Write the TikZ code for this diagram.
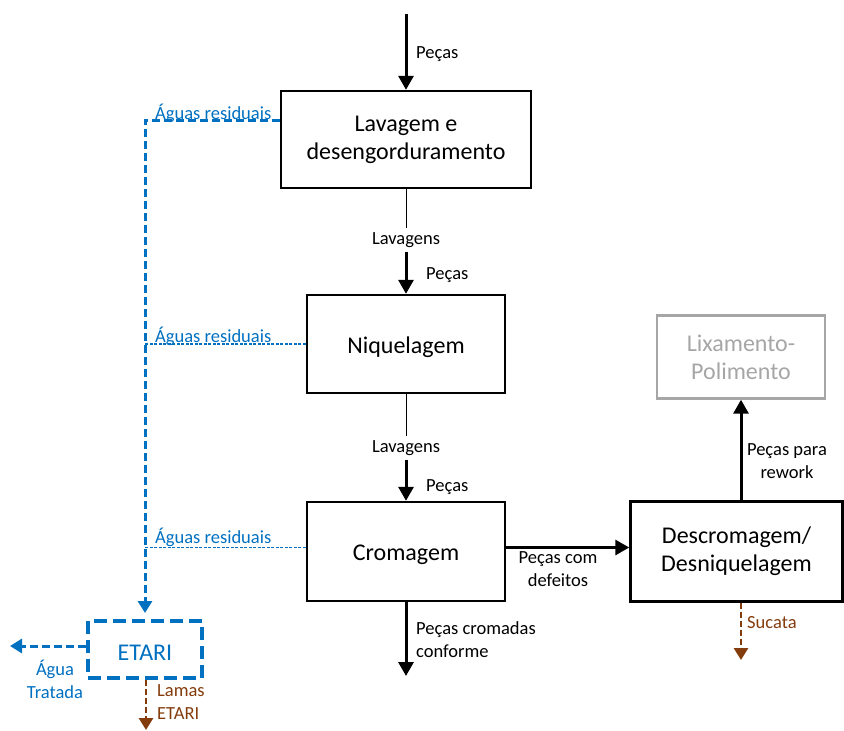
\documentclass[tikz,border=0pt]{standalone}
\usepackage{fontspec}
\setmainfont{Carlito}
\usetikzlibrary{arrows.meta}
\definecolor{wblue}{HTML}{0070C0}
\definecolor{sbrown}{HTML}{843C0C}
\definecolor{lgray}{HTML}{A6A6A6}
\begin{document}
\begin{tikzpicture}[x=1pt,y=-1pt,
  proc/.style={draw=black,line width=2.4pt,fill=white,align=center,
    font=\fontsize{24}{28}\selectfont,inner sep=0pt,
    execute at begin node={\rule{0pt}{22.5pt}}},
  lbl/.style={font=\fontsize{18.5}{23}\selectfont,inner sep=0pt},
  flow/.style={line width=3pt,-{Triangle[width=15pt,length=14pt]}},
  rinse/.style={line width=1pt},
  water/.style={draw=wblue,line width=3pt,dash pattern=on 8pt off 4pt},
  waterthin/.style={draw=wblue,line width=1.1pt,dash pattern=on 3pt off 1.5pt},
  wtip/.style={-{Triangle[width=14pt,length=12pt]}},
  sludge/.style={draw=sbrown,line width=2.8pt,dash pattern=on 6pt off 3pt,
    -{Triangle[width=14pt,length=12pt]}},
]
\useasboundingbox (0,0) rectangle (844,731);

% process boxes
\node[proc,minimum width=250pt,minimum height=97pt] (lav) at (406,139.5)
  {Lavagem e\\desengorduramento};
\node[proc,minimum width=198pt,minimum height=98pt] (niq) at (406,344) {Niquelagem};
\node[proc,minimum width=198pt,minimum height=99pt] (cro) at (406,551.5) {Cromagem};
\node[proc,minimum width=212pt,minimum height=100pt] (des) at (736.5,551.5)
  {Descromagem/\\Desniquelagem};
\node[proc,draw=lgray,text=lgray,minimum width=168pt,minimum height=83pt] (lix) at (741,357)
  {Lixamento-\\Polimento};
\node[proc,draw=wblue,text=wblue,line width=4pt,dash pattern=on 13pt off 6pt,
  minimum width=114pt,minimum height=57pt] (etari) at (145,649) {ETARI};

% free ends
\coordinate (in) at (406,14);
\coordinate (out) at (406,676);
\coordinate (wcorner) at (145,120);
\coordinate (treated) at (10,646);
\coordinate (sludgeend) at (146,730);
\coordinate (scrapend) at (741,660);

% main line
\draw[flow] (in) -- (lav.north);
\node[lbl,anchor=west] (p1) at (416,54) {Peças};

\node[lbl,minimum height=23pt] (lv1) at (406,240) {Lavagens};
\draw[rinse] (lav.south) -- (lv1.north);
\draw[flow] (lv1.south) -- (niq.north);
\node[lbl,anchor=west] (p2) at (426,275) {Peças};

\node[lbl,minimum height=23pt] (lv2) at (406,448) {Lavagens};
\draw[rinse] (niq.south) -- (lv2.north);
\draw[flow] (lv2.south) -- (cro.north);
\node[lbl,anchor=west] (p3) at (426,487) {Peças};

\draw[flow] (cro.south) -- (out);
\node[lbl,anchor=north west,align=left] (p4) at (416,621) {Peças cromadas\\conforme};

% rework branch
\draw[flow] ([yshift=4pt]cro.east) -- ([yshift=4pt]cro.east -| des.west);
\node[lbl,align=center] (p5) at (558,569) {Peças com\\defeitos};
\draw[flow] (lix.south |- des.north) -- (lix.south);
\node[lbl,align=center] (p6) at (787,461) {Peças para\\rework};
\draw[sludge] (lix.south |- des.south) -- (scrapend);
\node[lbl,anchor=west,text=sbrown] (p7) at (747,623) {Sucata};

% waste water to treatment
\draw[water,wtip] (lav.west |- wcorner) -- (wcorner) -- ([yshift=-1pt]etari.north |- 0,612);
\node[lbl,anchor=base west,text=wblue] (a1) at (155,119) {Águas residuais};
\draw[waterthin] (niq.west) -- (niq.west -| wcorner);
\node[lbl,anchor=base west,text=wblue] (a2) at (155,342) {Águas residuais};
\draw[waterthin] ([yshift=4pt]cro.west) -- ([yshift=4pt]cro.west -| wcorner);
\node[lbl,anchor=base west,text=wblue] (a3) at (155,543) {Águas residuais};

% treatment outputs
\draw[water,wtip] ([yshift=3pt]etari.west) -- (treated);
\node[lbl,align=center,text=wblue] (a4) at (55,679) {Água\\Tratada};
\draw[sludge] (etari.south -| sludgeend) -- (sludgeend);
\node[lbl,anchor=west,align=left,text=sbrown] (a5) at (157,702) {Lamas\\ETARI};
\end{tikzpicture}
\end{document}
